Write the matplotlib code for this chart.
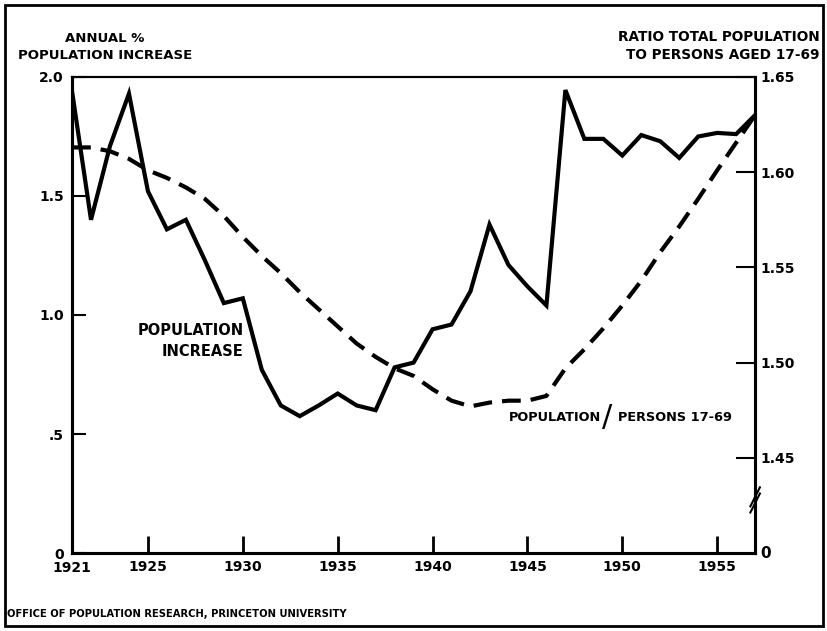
import matplotlib
matplotlib.use('Agg')
import matplotlib.pyplot as plt
from matplotlib.patches import Rectangle

plt.rcParams['font.family'] = ['DejaVu Sans']
plt.rcParams['font.weight'] = 'bold'

# annual % population increase, 1921-1957
years = list(range(1921, 1958))
pop_increase = [1.94, 1.40, 1.71, 1.93, 1.52, 1.36, 1.40, 1.23, 1.05, 1.07,
                0.77, 0.62, 0.575, 0.62, 0.67, 0.62, 0.60, 0.78, 0.80, 0.94,
                0.96, 1.10, 1.38, 1.21, 1.12, 1.04, 1.945, 1.74, 1.74, 1.67,
                1.756, 1.73, 1.66, 1.75, 1.765, 1.76, 1.84]

# ratio total population to persons aged 17-69
ratio = [1.613, 1.613, 1.611, 1.607, 1.601, 1.597, 1.592, 1.586, 1.577, 1.566,
         1.556, 1.547, 1.537, 1.528, 1.519, 1.510, 1.503, 1.497, 1.493, 1.486,
         1.480, 1.477, 1.479, 1.480, 1.480, 1.4825, 1.497, 1.507, 1.518, 1.530,
         1.543, 1.558, 1.5715, 1.586, 1.601, 1.6155, 1.630]

left_ticks = [0, 0.5, 1.0, 1.5, 2.0]
left_labels = ['0', '.5', '1.0', '1.5', '2.0']
right_ticks = [1.45, 1.50, 1.55, 1.60, 1.65]
x_ticks = [1925, 1930, 1935, 1940, 1945, 1950, 1955]

fig = plt.figure(figsize=(8.28, 6.31), dpi=100)
ax = fig.add_axes([0.087, 0.1236, 0.825, 0.7544])
ax2 = ax.twinx()

ax.plot(years, pop_increase, color='black', lw=3, solid_joinstyle='miter')
ax2.plot(years, ratio, color='black', lw=3, dashes=(4.5, 2.4))

ax.set_xlim(1921, 1957)
ax.set_ylim(0, 2.0)
ax2.set_ylim(1.40, 1.65)

ax.set_xticks(x_ticks)
ax.set_xticklabels([str(y) for y in x_ticks], fontsize=10)
ax.set_yticks(left_ticks)
ax.set_yticklabels(left_labels, fontsize=10)
ax2.set_yticks(right_ticks)
ax2.set_yticklabels(['%.2f' % v for v in right_ticks], fontsize=10)

ax.tick_params(axis='x', direction='in', length=12, width=2, pad=5)
ax.tick_params(axis='y', direction='in', length=10, width=1.5, pad=6)
ax2.tick_params(axis='y', direction='in', length=14, width=1.5, pad=4)

for a in (ax, ax2):
    for s in ('left', 'right', 'bottom'):
        a.spines[s].set_linewidth(2.2)
    a.spines['top'].set_linewidth(1.5)

# extra labels at the corners
ax.text(1921, -0.035, '1921', ha='center', va='top', fontsize=10, transform=ax.transData)
ax2.text(1.008, 0, '0', ha='left', va='center', fontsize=11, transform=ax2.transAxes)

# axis break on the right spine
ax2.plot([0.993, 1.007], [0.085, 0.125], color='black', lw=1.5, transform=ax2.transAxes, clip_on=False)
ax2.plot([0.993, 1.007], [0.098, 0.138], color='black', lw=1.5, transform=ax2.transAxes, clip_on=False)

# axis titles
fig.text(0.127, 0.902, 'ANNUAL %\nPOPULATION INCREASE', ha='center', va='bottom', fontsize=9.5,
         linespacing=1.35)
fig.text(0.99, 0.902, 'RATIO TOTAL POPULATION\nTO PERSONS AGED 17-69', ha='right', va='bottom',
         fontsize=9.8, linespacing=1.35, multialignment='right')

# series labels
ax.text(1930.05, 0.89, 'POPULATION\nINCREASE', ha='right', va='center', fontsize=10.5,
        linespacing=1.5, multialignment='right')
ax.text(1944.0, 0.571, 'POPULATION', ha='left', va='center', fontsize=9.3)
ax.text(1949.2, 0.571, '/', ha='center', va='center', fontsize=22, fontweight='normal')
ax.text(1949.75, 0.571, 'PERSONS 17-69', ha='left', va='center', fontsize=9.3)

fig.text(0.009, 0.027, 'OFFICE OF POPULATION RESEARCH, PRINCETON UNIVERSITY', ha='left',
         va='center', fontsize=7.2)

# outer border
fig.patches.append(Rectangle((0.006, 0.008), 0.988, 0.984, transform=fig.transFigure,
                             fill=False, edgecolor='black', lw=2))

fig.savefig('out.png', dpi=100, facecolor='white')
